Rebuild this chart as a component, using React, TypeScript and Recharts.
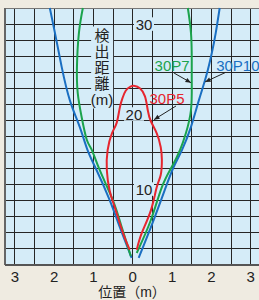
import React from 'react';
import {
  LineChart,
  Line,
  XAxis,
  YAxis,
  ReferenceLine,
  ReferenceArea,
  ReferenceDot,
} from 'recharts';

// position (m) and detection distance (m)
const blueLeftX = [-0.03, -0.33, -0.59, -0.92, -1.15, -1.35, -1.6, -1.81, -1.98, -2.11];
const blueLeftY = [0.9, 4.7, 8.1, 11.8, 14.3, 17.2, 20.5, 24.7, 28.9, 32];
const blueRightX = [0.15, 0.53, 0.84, 1.04, 1.25, 1.48, 1.68, 1.86, 2.01, 2.11, 2.21];
const blueRightY = [0.9, 5.6, 9.7, 12.2, 14.3, 17.2, 20.5, 23.4, 26.4, 28.9, 32];

const greenLeftX = [-0.05, -0.28, -0.51, -0.84, -1.04, -1.17, -1.3, -1.4, -1.42, -1.37, -1.27];
const greenLeftY = [1.1, 4.7, 8.1, 11.8, 14.3, 15.6, 18.4, 21.4, 24.7, 28.9, 32];
const greenRightX = [0.1, 0.46, 0.74, 0.99, 1.2, 1.35, 1.48, 1.5, 1.5, 1.48, 1.4];
const greenRightY = [1.5, 5.6, 9.7, 12.2, 14.3, 16.4, 19.3, 22.7, 25.5, 28.9, 32];

const redX = [-0.08, -0.25, -0.46, -0.59, -0.66, -0.64, -0.53, -0.41, -0.33, -0.26, -0.18, -0.06, 0.05, 0.18, 0.31, 0.38, 0.46, 0.61, 0.71, 0.74, 0.71, 0.61, 0.46, 0.23, 0.1];
const redY = [1.9, 4.0, 7.2, 9.3, 11.8, 14.3, 16.4, 17.7, 19.6, 20.8, 21.7, 22.2, 22.3, 22.0, 21.0, 19.3, 17.9, 16.4, 14.7, 13.1, 11.2, 9.7, 6.8, 4.0, 1.9];

const xTicks = [-3, -2, -1, 0, 1, 2, 3];
const gridX = [-3, -2.5, -2, -1.5, -1, -0.5, 0, 0.5, 1, 1.5, 2, 2.5, 3];
const gridY = [2, 4, 6, 8, 10, 12, 14, 16, 18, 20, 22, 24, 26, 28, 30, 32];
const distLabels = ['30', '20', '10'];
const distLabelX = [0.285, 0.03, 0.285];
const distLabelY = [30, 18.8, 9.46];
const titleChars = ['検', '出', '距', '離', '(m)'];

const BG = '#efebe1';
const PLOT = '#d5ecf8';
const BLUE = '#1a6fc2';
const GREEN = '#1ba34c';
const RED = '#e6262f';
const FONT = "'Liberation Sans', 'Noto Sans CJK JP', sans-serif";

const toPoints = (xs: number[], ys: number[]) => xs.map((x, i) => ({ x, y: ys[i] }));

const BoxText = ({ cx, cy, text, color = '#222', anchor = 'middle', size = 15, box = false }: any) => {
  const w = text.length * size * 0.6 + 2;
  const left = anchor === 'start' ? cx : cx - w / 2;
  return (
    <g>
      {box && <rect x={left} y={cy - size * 0.45} width={w} height={size * 0.9} fill={PLOT} />}
      <text x={cx} y={cy} textAnchor={anchor} dominantBaseline="central" fontSize={size} fill={color} fontFamily={FONT}>
        {text}
      </text>
    </g>
  );
};

const VerticalTitle = ({ cx, cy }: any) => (
  <g>
    <rect x={cx - 11} y={cy - 9} width={22} height={titleChars.length * 16 + 2} fill={PLOT} />
    <text fontSize={15} fill="#222" fontFamily={FONT} textAnchor="middle">
      {titleChars.map((c, i) => (
        <tspan key={c} x={cx} y={cy + i * 16} dominantBaseline="central">
          {c}
        </tspan>
      ))}
    </text>
  </g>
);

const Arrow = (props: any) => {
  const { x1, y1, x2, y2 } = props;
  const a = Math.atan2(y2 - y1, x2 - x1);
  const len = 6;
  const wing = 0.4;
  const p1 = [x2 - len * Math.cos(a - wing), y2 - len * Math.sin(a - wing)];
  const p2 = [x2 - len * Math.cos(a + wing), y2 - len * Math.sin(a + wing)];
  return (
    <g>
      <line x1={x1} y1={y1} x2={x2} y2={y2} stroke="#222" strokeWidth={1} />
      <polygon points={`${x2},${y2} ${p1[0]},${p1[1]} ${p2[0]},${p2[1]}`} fill="#222" />
    </g>
  );
};

const App: React.FC = () => {
  const series = [
    { id: 'bl', data: toPoints(blueLeftX, blueLeftY), color: BLUE },
    { id: 'br', data: toPoints(blueRightX, blueRightY), color: BLUE },
    { id: 'gl', data: toPoints(greenLeftX, greenLeftY), color: GREEN },
    { id: 'gr', data: toPoints(greenRightX, greenRightY), color: GREEN },
    { id: 'r', data: toPoints(redX, redY), color: RED },
  ];

  return (
    <div style={{ position: 'absolute', left: 0, top: 0, width: 259, height: 300, background: BG, overflow: 'hidden' }}>
      <LineChart width={259} height={300} margin={{ top: 8, right: 0, left: 5, bottom: 0 }}>
        <XAxis
          type="number"
          dataKey="x"
          domain={[-3.25, 3.21]}
          ticks={xTicks}
          tickFormatter={(v: number) => String(Math.abs(v))}
          height={35}
          tickLine={false}
          tickSize={4}
          tickMargin={2}
          axisLine={{ stroke: '#555', strokeWidth: 2 }}
          tick={{ fontSize: 15, fill: '#222', fontFamily: FONT }}
          label={{ value: '位置（m）', position: 'insideBottom', offset: 3, fontSize: 14, fill: '#222', fontFamily: FONT }}
        />
        <YAxis type="number" dataKey="y" domain={[0, 32]} hide />
        <ReferenceArea x1={-3.25} x2={3.21} y1={0} y2={32} fill={PLOT} fillOpacity={1} stroke="none" />
        {gridX.map((v) => (
          <ReferenceLine key={`gx${v}`} x={v} stroke="#262626" strokeWidth={1} shapeRendering="crispEdges" />
        ))}
        {gridY.map((v) => (
          <ReferenceLine
            key={`gy${v}`}
            y={v}
            stroke={v === 32 ? '#777' : '#262626'}
            strokeWidth={1}
            shapeRendering="crispEdges"
          />
        ))}
        <ReferenceLine x={-3.25} stroke="#666" strokeWidth={2} />
        {series.map((s) => (
          <Line
            key={s.id}
            data={s.data}
            dataKey="y"
            type="natural"
            stroke={s.color}
            strokeWidth={2}
            dot={false}
            activeDot={false}
            isAnimationActive={false}
          />
        ))}
        {distLabels.map((t, i) => (
          <ReferenceDot
            key={t}
            x={distLabelX[i]}
            y={distLabelY[i]}
            r={0}
            shape={(p: any) => <BoxText cx={p.cx} cy={p.cy} text={t} size={15} box />}
          />
        ))}
        <ReferenceDot x={-0.78} y={28.58} r={0} shape={(p: any) => <VerticalTitle cx={p.cx} cy={p.cy} />} />
        <ReferenceLine segment={[{ x: 1.05, y: 23.9 }, { x: 1.48, y: 22.7 }]} shape={Arrow} />
        <ReferenceLine segment={[{ x: 2.37, y: 24.0 }, { x: 1.84, y: 22.8 }]} shape={Arrow} />
        <ReferenceLine segment={[{ x: 1.1, y: 19.8 }, { x: 0.54, y: 18.1 }]} shape={Arrow} />
        <ReferenceDot x={1.0} y={24.9} r={0} shape={(p: any) => <BoxText cx={p.cx} cy={p.cy} text="30P7" color={GREEN} />} />
        <ReferenceDot x={2.12} y={24.9} r={0} shape={(p: any) => <BoxText cx={p.cx} cy={p.cy} text="30P10" color={BLUE} anchor="start" />} />
        <ReferenceDot x={0.87} y={20.7} r={0} shape={(p: any) => <BoxText cx={p.cx} cy={p.cy} text="30P5" color={RED} />} />
      </LineChart>
    </div>
  );
};

export default App;
